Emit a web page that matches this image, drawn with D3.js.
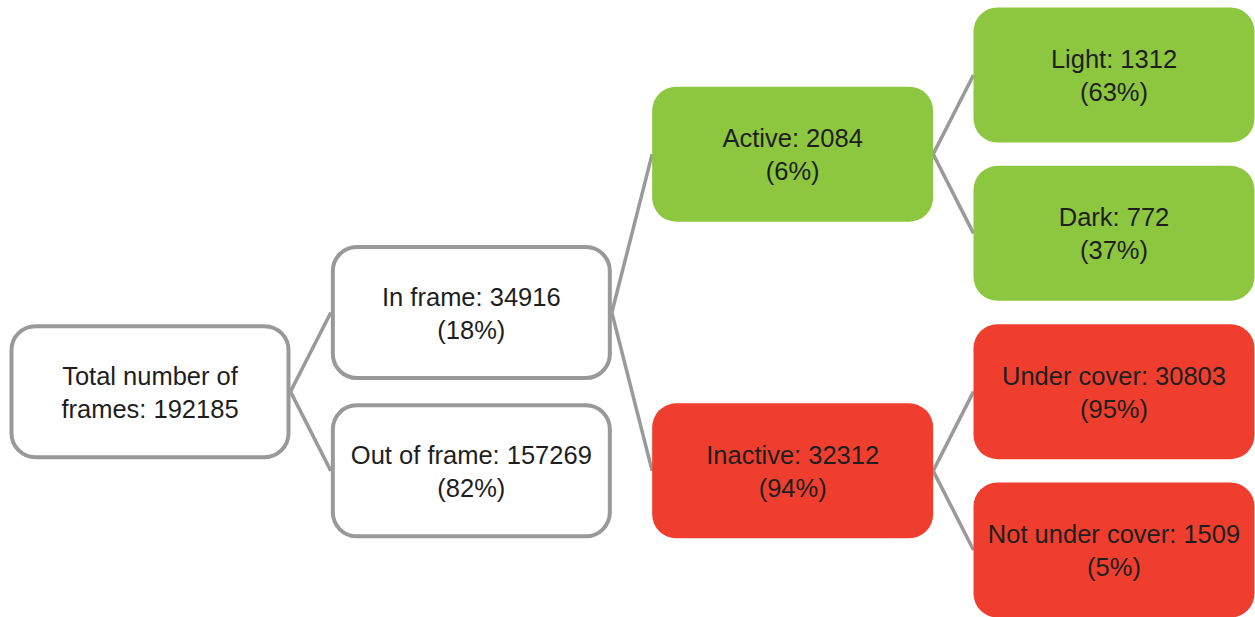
<!DOCTYPE html>
<html>
<head>
<meta charset="utf-8">
<script src="https://cdn.jsdelivr.net/npm/d3@7"></script>
<style>
  body { margin: 0; background: #fff; }
  svg { display: block; font-family: 'Liberation Sans', Arial, sans-serif; }
</style>
</head>
<body>
<div id="chart"></div>
<script>
const WIDTH = 1255
const HEIGHT = 617

// node data
const ids = ['total', 'in', 'out', 'active', 'inactive', 'light', 'dark', 'under', 'notunder']
const parents = ['', 'total', 'total', 'in', 'in', 'active', 'active', 'inactive', 'inactive']
const names = ['Total number of\nframes', 'In frame', 'Out of frame', 'Active', 'Inactive',
    'Light', 'Dark', 'Under cover', 'Not under cover']
const counts = [192185, 34916, 157269, 2084, 32312, 1312, 772, 30803, 1509]
const percents = [null, 18, 82, 6, 94, 63, 37, 95, 5]
const kinds = ['frame', 'frame', 'frame', 'active', 'inactive', 'active', 'active', 'inactive', 'inactive']

const nodes = ids.map((id, i) => ({
    id, parent: parents[i], name: names[i], count: counts[i], pct: percents[i], kind: kinds[i]
}))

const root = d3.stratify().id(d => d.id).parentId(d => d.parent)(nodes)
d3.tree().nodeSize([1, 1]).separation(() => 1)(root)

const BOX_W = 281
const BOX_H = 135

const xScale = d3.scaleLinear()
    .domain([0, root.height])
    .range([150, 1114])

const yScale = d3.scaleLinear()
    .domain(d3.extent(root.descendants(), d => d.x))
    .range([75, 550])

const fill = d3.scaleOrdinal()
    .domain(['frame', 'active', 'inactive'])
    .range(['#ffffff', '#8dc63f', '#ef3e2e'])

const svg = d3.select('#chart')
    .append('svg')
    .attr('width', WIDTH)
    .attr('height', HEIGHT)

svg.append('g')
    .selectAll('line')
    .data(root.links())
    .join('line')
    .attr('x1', d => xScale(d.source.depth) + BOX_W / 2)
    .attr('y1', d => yScale(d.source.x))
    .attr('x2', d => xScale(d.target.depth) - BOX_W / 2)
    .attr('y2', d => yScale(d.target.x))
    .attr('stroke', '#9a9a9a')
    .attr('stroke-width', 3.5)

const node = svg.append('g')
    .selectAll('g')
    .data(root.descendants())
    .join('g')
    .attr('transform', d => `translate(${xScale(d.depth)}, ${yScale(d.x)})`)

node.append('rect')
    .attr('x', d => -BOX_W / 2 + (d.data.kind === 'frame' ? 2 : 0))
    .attr('y', d => -BOX_H / 2 + (d.data.kind === 'frame' ? 2 : 0))
    .attr('width', d => BOX_W - (d.data.kind === 'frame' ? 4 : 0))
    .attr('height', d => BOX_H - (d.data.kind === 'frame' ? 4 : 0))
    .attr('rx', 24)
    .attr('fill', d => fill(d.data.kind))
    .attr('stroke', d => d.data.kind === 'frame' ? '#999999' : 'none')
    .attr('stroke-width', 4)

node.append('text')
    .attr('text-anchor', 'middle')
    .attr('font-size', 25.5)
    .attr('fill', '#1e1e1e')
    .selectAll('tspan')
    .data(d => {
        const lines = `${d.data.name}: ${d.data.count}`.split('\n')
        if (d.data.pct !== null) lines.push(`(${d.data.pct}%)`)
        return lines
    })
    .join('tspan')
    .attr('x', 0)
    .attr('y', (t, i) => -7 + i * 33)
    .text(t => t)
</script>
</body>
</html>
